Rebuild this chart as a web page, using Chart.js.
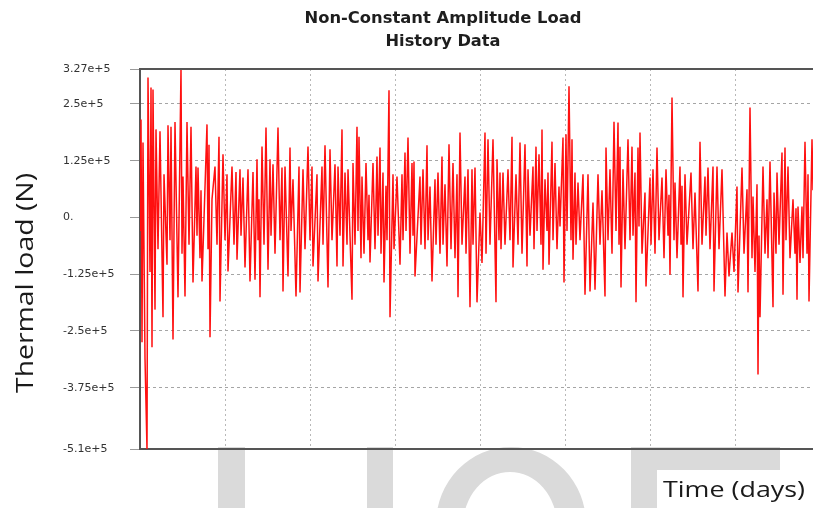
<!DOCTYPE html>
<html>
<head>
<meta charset="utf-8">
<script src="https://cdn.jsdelivr.net/npm/chart.js@4/dist/chart.umd.min.js"></script>
<style>
html,body{margin:0;padding:0;background:#fff;overflow:hidden}
#wrap{width:813px;height:508px;position:relative}
</style>
</head>
<body>
<div id="wrap"><canvas id="c" width="813" height="508"></canvas></div>
<script>
// ---- texts ----
const chartTitle = ['Non-Constant Amplitude Load', 'History Data'];
const yAxisTitle = 'Thermal load (N)';
const xAxisTitle = 'Time (days)';

// ---- y ticks (load in units of 1e5 N) ----
const yTickValues = [3.27, 2.5, 1.25, 0, -1.25, -2.5, -3.75, -5.1];
const yTickLabels = ['3.27e+5', '2.5e+5', '1.25e+5', '0.', '-1.25e+5', '-2.5e+5', '-3.75e+5', '-5.1e+5'];
const yMin = -5.1, yMax = 3.27;

// ---- x grid (time positions) ----
const xGridValues = [0, 85, 170, 255, 340, 425, 510, 595];
const xMin = 0, xMax = 673;

// ---- series: time position and load (x 1e5 N) ----
const time = [
0,1,2,3,5,7,8,10,11,12,13,15,16,18,20,23,24,27,28,30,31,33,35,38,41,42,43,45,47,49,51,53,56,57,58,60,61,62,67,68,69,70,72,75,77,79,80,83,85,87,88,92,94,96,97,100,101,103,105,108,110,113,115,117,118,119,120,122,124,126,128,130,131,133,135,138,140,142,143,145,148,150,151,153,156,159,160,163,165,168,170,172,173,177,178,182,183,185,188,190,192,195,197,198,200,202,203,205,207,208,210,
212,213,215,217,218,219,221,222,224,226,228,229,230,233,235,237,238,240,241,243,244,246,247,249,250,253,254,257,260,262,263,265,266,268,270,272,273,274,275,280,281,283,285,287,288,290,292,295,296,298,300,302,303,305,307,309,311,313,315,317,318,320,322,325,326,328,330,332,333,335,337,340,342,345,346,348,350,353,356,357,359,360,361,363,365,368,370,372,373,376,378,380,382,385,387,388,390,393,394,396,397,399,401,402,403,405,407,408,409,412,413,415,417,419,420,423,424,426,427,429,431,432,433,435,
436,438,440,443,445,448,450,453,455,458,460,462,465,466,468,470,472,474,476,478,479,480,481,483,485,488,490,492,493,495,496,498,499,500,502,505,506,510,511,513,515,517,519,522,524,526,528,529,530,532,534,535,537,540,541,542,543,545,547,551,553,555,558,560,562,565,566,568,570,573,574,577,579,582,585,587,589,592,594,597,598,602,604,607,608,610,612,613,615,617,618,619,620,623,625,627,628,630,633,634,636,637,639,642,643,645,646,648,650,653,655,656,657,658,660,662,663,665,667,668,669,672,673
];
const load = [
-0.3,2.16,-2.75,1.65,-3.1,-5.1,3.08,-1.2,2.86,-2.86,2.82,-2.03,1.94,-0.7,1.9,-2.2,0.95,-1.04,2.03,-0.5,2.0,-2.69,2.1,-1.76,3.27,-0.8,0.9,-1.74,2.1,-0.6,2.0,-1.43,1.12,-0.4,1.1,-0.9,0.6,-1.41,2.05,-0.7,1.6,-2.64,0.4,1.12,-0.6,1.78,-1.85,1.39,-0.5,0.95,-1.19,1.12,-0.6,1.0,-0.93,1.06,-0.4,0.88,-1.1,1.06,-1.41,1.0,-1.37,1.28,-0.5,0.4,-1.76,1.56,-0.6,1.98,-1.15,1.28,-0.4,1.17,-0.8,1.98,-0.5,1.1,-1.63,1.12,-1.3,1.54,-0.3,0.84,-1.74,1.12,-1.65,1.06,-0.7,1.56,-0.5,1.12,-1.08,0.95,-1.41,1.12,-0.6,1.59,-1.54,1.5,-0.5,1.17,-1.08,1.12,-0.4,1.94,-1.08,0.99,-0.6,1.06,-0.4,
-1.81,1.2,-0.6,2.0,-0.3,1.78,-0.9,0.9,-0.8,1.2,-0.5,0.5,-0.99,1.2,-0.7,1.34,-0.4,1.54,-0.8,0.99,-1.43,0.7,-0.5,2.8,-2.2,0.95,-0.7,0.9,-1.04,0.95,-0.5,1.43,-0.3,1.76,-0.8,1.2,-0.4,1.23,-1.3,0.9,-0.6,1.06,-0.7,1.59,-0.5,0.68,-1.41,0.84,-0.6,0.99,-0.8,1.34,-0.6,0.73,-1.08,1.61,-0.7,1.2,-0.9,0.95,-1.76,1.87,-0.6,0.9,-0.8,1.06,-1.98,1.06,-0.6,1.1,-1.87,0.11,-1.0,1.87,-0.8,1.72,-0.6,1.72,-1.87,1.28,-0.5,0.99,-0.7,0.99,-0.6,1.06,-0.5,1.78,-1.1,0.95,-0.6,1.65,-0.8,1.61,-1.08,1.06,-0.4,1.12,-0.7,1.56,-0.3,1.39,-0.6,1.94,-1.15,0.84,-0.3,0.99,-1.04,1.67,-0.5,1.2,-0.7,0.68,-0.2,1.76,-1.43,1.83,-0.3,2.89,-0.5,1.72,-0.93,0.99,
-0.6,0.77,-0.5,0.95,-1.7,0.95,-1.63,0.33,-1.59,0.95,-0.6,0.6,-1.74,1.54,-0.5,1.06,-0.8,2.11,-0.3,2.09,-0.6,1.56,-1.54,1.06,-0.7,1.72,-0.5,1.56,-0.4,0.99,-1.87,1.54,-0.2,1.87,-0.8,0.55,-1.52,0.88,-0.6,1.06,-0.8,1.54,-0.5,0.88,-0.9,1.06,-0.4,0.5,-1.26,2.64,-0.5,0.77,-0.9,1.12,-0.6,0.7,-1.76,0.95,-0.6,0.99,-0.7,0.55,-1.63,1.67,-0.6,0.9,-0.4,1.1,-0.7,1.12,-1.63,1.12,-0.7,1.06,-1.74,-0.33,-1.3,-0.33,-1.2,0.68,-1.65,1.1,-0.8,0.62,-1.65,2.42,-0.9,0.46,-1.2,0.73,-3.46,-0.4,-2.2,1.12,-0.8,0.4,-0.9,1.23,-1.98,0.55,-0.8,0.99,-0.6,1.43,-1.7,1.54,-0.5,1.12,-0.9,0.4,-0.8,0.2,-1.81,0.24,-1.0,0.24,-0.9,1.67,-0.8,0.95,-1.85,1.72,0.6
];

function drawFitted(ctx, txt, cx, cy, target, font, color, rot) {
  ctx.save();
  ctx.font = font;
  const w = ctx.measureText(txt).width;
  ctx.translate(cx, cy);
  if (rot) ctx.rotate(rot);
  ctx.scale(target / w, 1);
  ctx.textAlign = 'center';
  ctx.textBaseline = 'alphabetic';
  ctx.fillStyle = color;
  ctx.fillText(txt, 0, 0);
  ctx.restore();
}

const decor = {
  id: 'decor',
  beforeDraw(chart) {
    const ctx = chart.ctx;
    ctx.save();
    ctx.fillStyle = '#ffffff';
    ctx.fillRect(0, 0, chart.width, chart.height);
    // faint watermark letters at the bottom
    ctx.fillStyle = '#dadada';
    ctx.fillRect(218, 447, 27, 70);
    ctx.fillRect(367, 447, 26, 70);
    ctx.beginPath();
    ctx.ellipse(511, 524, 75, 77, 0, 0, Math.PI * 2);
    ctx.ellipse(510, 526, 47, 54, 0, 0, Math.PI * 2);
    ctx.fill('evenodd');
    ctx.fillRect(631, 447, 26, 70);
    ctx.fillRect(631, 447, 149, 23);
    ctx.restore();
  },
  afterDraw(chart) {
    const ctx = chart.ctx;
    const a = chart.chartArea;
    ctx.save();
    ctx.strokeStyle = '#555555';
    ctx.lineWidth = 2;
    ctx.beginPath();
    ctx.moveTo(a.left - 1, a.top);
    ctx.lineTo(chart.width, a.top);
    ctx.stroke();
    ctx.restore();
    drawFitted(ctx, chartTitle[0], 443, 23, 277, 'bold 15px "DejaVu Sans"', '#1e1e1e');
    drawFitted(ctx, chartTitle[1], 443, 46, 115, 'bold 15px "DejaVu Sans"', '#1e1e1e');
    drawFitted(ctx, yAxisTitle, 33, 283, 220, '23px "Open Sans"', '#1a1a1a', -Math.PI / 2);
    ctx.save();
    ctx.fillStyle = '#ffffff';
    ctx.fillRect(658, 471, 160, 40);
    ctx.restore();
    drawFitted(ctx, xAxisTitle, 734, 497, 142, '22px "Open Sans"', '#1a1a1a');
  }
};

new Chart(document.getElementById('c'), {
  type: 'line',
  data: {
    datasets: [{
      data: time.map((t, i) => ({ x: t, y: load[i] })),
      borderColor: '#ff1010',
      borderWidth: 1.5,
      pointRadius: 0,
      tension: 0,
      fill: false
    }]
  },
  options: {
    responsive: false,
    animation: false,
    devicePixelRatio: 1,
    layout: { padding: { left: 63, top: 69, right: 0, bottom: 0 } },
    plugins: { legend: { display: false }, title: { display: false }, tooltip: { enabled: false } },
    scales: {
      x: {
        type: 'linear', min: xMin, max: xMax,
        afterBuildTicks: s => { s.ticks = xGridValues.map(v => ({ value: v })); },
        afterFit: s => { s.height = 59; },
        ticks: { display: false },
        grid: { color: '#b8b8b8', drawTicks: false, lineWidth: 1 },
        border: { display: true, color: '#555555', width: 2, dash: [2, 3] }
      },
      y: {
        type: 'linear', min: yMin, max: yMax,
        afterBuildTicks: s => { s.ticks = yTickValues.map(v => ({ value: v })); },
        afterFit: s => { s.width = 77; },
        ticks: {
          autoSkip: false,
          crossAlign: 'far',
          color: '#333333',
          font: { family: 'DejaVu Sans', size: 11 },
          callback: v => yTickLabels[yTickValues.indexOf(v)]
        },
        grid: { color: '#a5a5a5', lineWidth: 1, tickLength: 10, tickColor: '#9a9a9a' },
        border: { display: true, color: '#555555', width: 2, dash: [3, 3] }
      }
    }
  },
  plugins: [decor]
});
</script>
</body>
</html>
